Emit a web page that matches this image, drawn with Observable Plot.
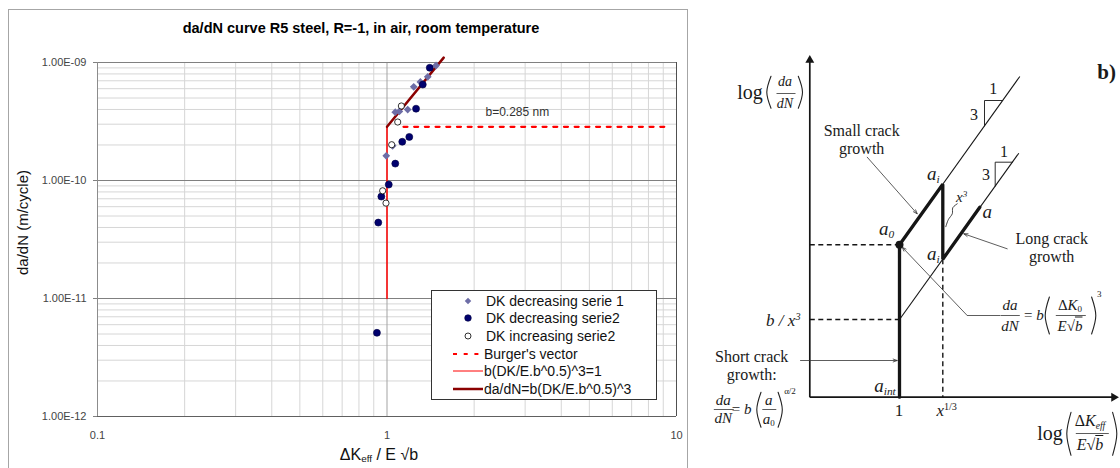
<!DOCTYPE html>
<html><head><meta charset="utf-8">
<script src="https://cdn.jsdelivr.net/npm/d3@7"></script>
<script src="https://cdn.jsdelivr.net/npm/@observablehq/plot@0.6"></script>
<style>
html,body{margin:0;padding:0;background:#fff}
body{width:1120px;height:468px;overflow:hidden;position:relative;font-family:"Liberation Sans",Arial,sans-serif}
#frame{position:absolute;left:8px;top:9px;width:678px;height:480px;border:1px solid #a6a6a6;border-bottom:none}
#left{position:absolute;left:0;top:0;width:700px;height:468px}
#right{position:absolute;left:700px;top:0;width:420px;height:468px}
#title{position:absolute;left:361px;top:28px;transform:translate(-50%,-50%);font-size:14.5px;font-weight:bold;white-space:nowrap;color:#000}
#xtitle{position:absolute;left:379px;top:455px;transform:translate(-50%,-50%);font-size:16px;white-space:nowrap;color:#111}
#xtitle sub{font-size:0.62em;vertical-align:-0.25em}
#legend{position:absolute;left:431px;top:290px;width:224px;height:107px;border:1px solid #333;background:#fff;padding-top:1px;box-sizing:content-box}
.lrow{height:17.6px;display:flex;align-items:center;font-size:14px;color:#111;white-space:nowrap}
.lrow svg{flex:none}
.lab{position:absolute;transform:translate(-50%,-50%);white-space:nowrap;font-family:"Liberation Serif","DejaVu Serif",serif;line-height:1;color:#1a1a1a;text-align:center}
.lab sub{font-size:0.6em;vertical-align:-0.3em;line-height:0}
.lab sup{font-size:0.6em;vertical-align:0.55em;line-height:0}
.ov{text-decoration:overline}
</style></head><body>
<div id="frame"></div>
<div id="left"></div>
<div id="right"></div>
<div id="title"></div>
<div id="xtitle">ΔK<sub>eff</sub> / E √b</div>
<div id="legend"></div>
<script>
// ---------- LEFT CHART DATA ----------
const chartTitle = "da/dN curve R5 steel, R=-1, in air, room temperature";
const yTitle = "da/dN (m/cycle)";
const xTicks = [0.1, 1, 10];
const xTickLabels = ["0.1", "1", "10"];
const yTicks = [1e-12, 1e-11, 1e-10, 1e-9];
const yTickLabels = ["1.00E-12", "1.00E-11", "1.00E-10", "1.00E-09"];
const minorMultipliers = [2, 3, 4, 5, 6, 7, 8, 9];

// DK decreasing serie 1 (diamonds)
const dec1X = [1.477, 1.383, 1.304, 1.237, 1.179, 1.103, 1.068, 1.046, 0.994];
const dec1Y = [9.43e-10, 7.56e-10, 6.85e-10, 6.22e-10, 3.99e-10, 3.85e-10, 3.79e-10, 1.97e-10, 1.62e-10];
// DK decreasing serie2 (filled circles)
const dec2X = [1.405, 1.329, 1.260, 1.194, 1.129, 1.068, 1.014, 0.956, 0.933, 0.923];
const dec2Y = [9.02e-10, 6.50e-10, 4.06e-10, 2.34e-10, 2.13e-10, 1.39e-10, 9.24e-11, 7.31e-11, 4.40e-11, 5.12e-12];
// DK increasing serie2 (open circles)
const inc2X = [1.121, 1.089, 1.038, 0.966, 0.992];
const inc2Y = [4.28e-10, 3.13e-10, 2.01e-10, 8.18e-11, 6.43e-11];
// Burger's vector
const burgerX = [1.14, 9.4];
const burgerY = [2.85e-10, 2.85e-10];
const burgerLabel = "b=0.285 nm";
const burgerLabelX = 2.82, burgerLabelY = 3.76e-10;
// b(DK/E.b^0.5)^3=1
const thrX = [1, 1];
const thrY = [1e-11, 2.85e-10];
// da/dN=b(DK/E.b^0.5)^3
const parisX = [1, 1.57];
const parisY = [2.85e-10, 1.10e-9];

const legendNames = ["DK decreasing serie 1", "DK decreasing serie2", "DK increasing serie2",
  "Burger's vector", "b(DK/E.b^0.5)^3=1", "da/dN=b(DK/E.b^0.5)^3"];

const C = {dia: "#6d6da6", navy: "#00006e", navyStroke: "#000040", red: "#ff0000", dark: "#8b0000"};

const zip = (xs, ys) => xs.map((x, i) => ({x, y: ys[i]}));
const xMinor = [0.1, 1].flatMap(d => minorMultipliers.map(m => d * m));
const yMinor = [1e-12, 1e-11, 1e-10].flatMap(d => minorMultipliers.map(m => d * m));

document.getElementById("title").textContent = chartTitle;

const left = Plot.plot({
  width: 700, height: 468,
  marginLeft: 97, marginRight: 24, marginTop: 62, marginBottom: 52,
  x: {type: "log", domain: [0.1, 10]},
  y: {type: "log", domain: [1e-12, 1e-9]},
  style: {fontFamily: "'Liberation Sans', Arial, sans-serif", background: "transparent", overflow: "visible"},
  marks: [
    Plot.ruleX(xMinor, {stroke: "#d6d6d6", strokeWidth: 1}),
    Plot.ruleY(yMinor, {stroke: "#d6d6d6", strokeWidth: 1}),
    Plot.ruleX([1], {stroke: "#a3a3a3"}),
    Plot.ruleY(yTicks.slice(1), {stroke: "#808080"}),
    Plot.ruleX([10], {stroke: "#505050"}),
    Plot.ruleX([0.1], {stroke: "#8c8c8c"}),
    Plot.ruleY([1e-12], {stroke: "#606060"}),
    Plot.axisY({ticks: yTicks, tickFormat: d => yTickLabels[yTicks.indexOf(d)], tickSize: 4, tickPadding: 7,
      fontSize: 11, fill: "#444", stroke: "#808080", label: null}),
    Plot.axisX({ticks: xTicks, tickFormat: d => xTickLabels[xTicks.indexOf(d)], tickSize: 0, tickPadding: 15,
      fontSize: 11, fill: "#444", label: null}),
    Plot.line(zip(thrX, thrY), {x: "x", y: "y", stroke: C.red, strokeWidth: 1.5}),
    Plot.line(zip(burgerX, burgerY), {x: "x", y: "y", stroke: C.red, strokeWidth: 2.2, strokeDasharray: "4,6.7"}),
    Plot.line(zip(parisX, parisY), {x: "x", y: "y", stroke: C.dark, strokeWidth: 2.5}),
    Plot.dot(zip(dec1X, dec1Y), {x: "x", y: "y", symbol: "square", rotate: 45, r: 3.1, fill: C.dia, stroke: "none"}),
    Plot.dot(zip(dec2X, dec2Y), {x: "x", y: "y", r: 3.5, fill: C.navy, stroke: C.navyStroke, strokeWidth: 0.6}),
    Plot.dot(zip(inc2X, inc2Y), {x: "x", y: "y", r: 3.1, fill: "#fff", stroke: "#000", strokeWidth: 0.8}),
    Plot.text([burgerLabel], {x: burgerLabelX, y: burgerLabelY, text: d => d, fontSize: 12, fill: "#333"}),
    Plot.text([yTitle], {frameAnchor: "left", text: d => d, textAnchor: "middle", lineAnchor: "middle", rotate: -90, dx: -74, dy: -17, fontSize: 15, fill: "#111"})
  ]
});
document.getElementById("left").appendChild(left);

// legend
const legendSymbols = [
  `<rect x="-2.3" y="-2.3" width="4.6" height="4.6" fill="${C.dia}" transform="translate(36,9) rotate(45)"/>`,
  `<circle cx="36" cy="9" r="3.3" fill="${C.navy}" stroke="${C.navyStroke}" stroke-width="0.6"/>`,
  `<circle cx="36" cy="9" r="3" fill="#fff" stroke="#000" stroke-width="0.8"/>`,
  `<line x1="21" y1="9" x2="51" y2="9" stroke="${C.red}" stroke-width="2.2" stroke-dasharray="4,6.7"/>`,
  `<line x1="21" y1="9" x2="51" y2="9" stroke="${C.red}" stroke-width="1"/>`,
  `<line x1="21" y1="9" x2="51" y2="9" stroke="${C.dark}" stroke-width="2.5"/>`
];
const lg = document.getElementById("legend");
legendNames.forEach((n, i) => {
  const row = document.createElement("div");
  row.className = "lrow";
  const w = i < 3 ? 54 : 52;
  row.innerHTML = `<svg width="${w}" height="18" viewBox="0 0 ${w} 18">${legendSymbols[i]}</svg><span>${n}</span>`;
  lg.appendChild(row);
});

// ---------- RIGHT SCHEMATIC DATA (schematic units: origin at axis corner) ----------
const axisSegs = [{x1: 0, y1: 0, x2: 0, y2: 33.6}, {x1: 0, y1: 0, x2: 30.3, y2: 0}];
const tipUp = {x: 0, y: 34.2};
const tipRight = {x: 30.9, y: 0};
const thickX = [8.97, 8.97, 13.3, 13.3, 17.0];
const thickY = [0, 15.24, 21.3, 13.8, 19.0];
const thinLines = [{x1: 8.97, y1: 15.24, x2: 21.0, y2: 32.07}, {x1: 8.97, y1: 7.77, x2: 20.9, y2: 24.4}];
const dashedLines = [{x1: 0, y1: 15.24, x2: 8.97, y2: 15.24}, {x1: 0, y1: 7.77, x2: 8.97, y2: 7.77}, {x1: 13.3, y1: 13.8, x2: 13.3, y2: 0}];
const slopeTri = [
  {x: 19.28, y: 29.67, k: 1}, {x: 17.47, y: 29.67, k: 1}, {x: 17.47, y: 27.13, k: 1},
  {x: 20.25, y: 23.5, k: 2}, {x: 18.54, y: 23.5, k: 2}, {x: 18.54, y: 21.11, k: 2}
];
const squiggle = [{x: 14.74, y: 19.34}, {x: 14.3, y: 18.95}, {x: 14.25, y: 18.35}, {x: 13.85, y: 17.75}, {x: 13.6, y: 17.05}];
const a0Point = {x: 8.97, y: 15.24};
const leaderLinks = [{x1: 19.07, y1: 8.17, x2: 15.74, y2: 8.17}];
const leaderArrows = [
  {x1: 5.74, y1: 24.0, x2: 10.74, y2: 18.34},
  {x1: 19.74, y1: 14.84, x2: 15.4, y2: 16.34},
  {x1: -0.93, y1: 3.67, x2: 8.74, y2: 3.67},
  {x1: 15.74, y1: 8.17, x2: 9.24, y2: 15.0}
];
const fracBars = [
  {x1: -3.33, x2: -1.43, y: 30.37}, {x1: 19.1, x2: 21.0, y: 8.17}, {x1: 24.6, x2: 27.6, y: 8.17},
  {x1: -9.6, x2: -7.6, y: -1.23}, {x1: -4.75, x2: -3.35, y: -1.23}, {x1: 26.6, x2: 29.9, y: -3.63}
];
// parentheses: centre u, v, half-height h, side (-1 = "(", +1 = ")")
const parens = [
  {u: -4.1, v: 30.5, h: 1.6, s: -1}, {u: -0.93, v: 30.5, h: 1.6, s: 1},
  {u: 23.74, v: 8.17, h: 1.85, s: -1}, {u: 28.4, v: 8.17, h: 1.85, s: 1},
  {u: -5.1, v: -1.26, h: 1.75, s: -1}, {u: -2.95, v: -1.26, h: 1.75, s: 1},
  {u: 25.9, v: -3.66, h: 2.15, s: -1}, {u: 30.5, v: -3.66, h: 2.15, s: 1}
];
const parenPts = parens.flatMap((p, k) => [
  {x: p.u - p.s * 0.22, y: p.v + p.h, k},
  {x: p.u + p.s * 0.2, y: p.v, k},
  {x: p.u - p.s * 0.22, y: p.v - p.h, k}
]);
const rightLabels = [
  {u: -5.93, v: 30.5, t: "log", s: 20},
  {u: -2.43, v: 31.45, t: "<i>da</i>", s: 14},
  {u: -2.43, v: 29.25, t: "<i>dN</i>", s: 14},
  {u: 29.74, v: 32.5, t: "<b>b)</b>", s: 21},
  {u: 18.4, v: 30.8, t: "1", s: 16},
  {u: 16.47, v: 28.17, t: "3", s: 16},
  {u: 19.47, v: 24.5, t: "1", s: 16},
  {u: 17.67, v: 22.17, t: "3", s: 16},
  {u: 5.24, v: 25.67, t: "Small crack<br>growth", s: 16, lh: 18},
  {u: 12.4, v: 22.34, t: "<i>a<sub>i</sub></i>", s: 19},
  {u: 15.24, v: 20.0, t: "<i>x<sup>3</sup></i>", s: 15},
  {u: 17.8, v: 18.6, t: "<i>a</i>", s: 19},
  {u: 7.74, v: 16.84, t: "<i>a<sub>0</sub></i>", s: 19},
  {u: 24.24, v: 14.84, t: "Long crack<br>growth", s: 16, lh: 18},
  {u: 12.4, v: 14.34, t: "<i>a<sub>i</sub></i>", s: 19},
  {u: 20.07, v: 9.2, t: "<i>da</i>", s: 15},
  {u: 20.07, v: 7.1, t: "<i>dN</i>", s: 15},
  {u: 22.45, v: 8.17, t: "= <i>b</i>", s: 15},
  {u: 26.07, v: 9.2, t: "Δ<i>K</i><sub>0</sub>", s: 15},
  {u: 26.07, v: 7.1, t: "<i>E</i>√<span class='ov'><i>b</i></span>", s: 15},
  {u: 29.0, v: 10.3, t: "3", s: 9},
  {u: -2.6, v: 7.67, t: "<i>b / x<sup>3</sup></i>", s: 17},
  {u: -5.76, v: 3.07, t: "Short crack<br>growth:", s: 16, lh: 18},
  {u: 7.57, v: 1.17, t: "<i>a<sub>int</sub></i>", s: 19},
  {u: -8.6, v: -0.33, t: "<i>da</i>", s: 15},
  {u: -8.6, v: -2.16, t: "<i>dN</i>", s: 15},
  {u: -6.76, v: -1.26, t: "= <i>b</i>", s: 15},
  {u: -4.05, v: -0.33, t: "<i>a</i>", s: 15},
  {u: -4.05, v: -2.23, t: "<i>a</i><sub>0</sub>", s: 15},
  {u: -1.93, v: 0.55, t: "α/2", s: 9},
  {u: 8.97, v: -1.33, t: "1", s: 17},
  {u: 13.74, v: -1.33, t: "<i>x</i><sup>1/3</sup>", s: 17},
  {u: 24.07, v: -3.66, t: "log", s: 20},
  {u: 28.07, v: -2.45, t: "Δ<i>K</i><sub><i>eff</i></sub>", s: 16},
  {u: 28.07, v: -4.85, t: "<i>E</i>√<span class='ov'><i>b</i></span>", s: 16}
];

const ink = "#151515";
const right = Plot.plot({
  width: 420, height: 468, margin: 0,
  x: {domain: [-10.93, 31.07], axis: null},
  y: {domain: [-7.13, 39.67], axis: null},
  style: {background: "transparent", overflow: "visible"},
  marks: [
    Plot.link(axisSegs, {x1: "x1", y1: "y1", x2: "x2", y2: "y2", stroke: ink, strokeWidth: 1.7}),
    Plot.dot([tipUp], {x: "x", y: "y", symbol: "triangle", r: 3.3, rotate: 0, dy: 5, fill: ink, stroke: "none"}),
    Plot.dot([tipRight], {x: "x", y: "y", symbol: "triangle", r: 3.3, rotate: 90, dx: -5, fill: ink, stroke: "none"}),
    Plot.link(dashedLines, {x1: "x1", y1: "y1", x2: "x2", y2: "y2", stroke: ink, strokeWidth: 1.4, strokeDasharray: "5,3.5"}),
    Plot.link(thinLines, {x1: "x1", y1: "y1", x2: "x2", y2: "y2", stroke: ink, strokeWidth: 1.1}),
    Plot.line(slopeTri, {x: "x", y: "y", z: "k", stroke: ink, strokeWidth: 0.9}),
    Plot.line(zip(thickX, thickY), {x: "x", y: "y", stroke: ink, strokeWidth: 3.3, strokeLinejoin: "miter"}),
    Plot.line(squiggle, {x: "x", y: "y", curve: "catmull-rom", stroke: ink, strokeWidth: 0.8}),
    Plot.dot([a0Point], {x: "x", y: "y", r: 4, fill: ink, stroke: "none"}),
    Plot.link(leaderLinks, {x1: "x1", y1: "y1", x2: "x2", y2: "y2", stroke: "#333", strokeWidth: 0.8}),
    Plot.arrow(leaderArrows, {x1: "x1", y1: "y1", x2: "x2", y2: "y2", stroke: "#333", strokeWidth: 0.8, headLength: 8, headAngle: 40}),
    Plot.link(fracBars, {x1: "x1", x2: "x2", y1: "y", y2: "y", stroke: "#333", strokeWidth: 0.8}),
    Plot.line(parenPts, {x: "x", y: "y", z: "k", curve: "natural", stroke: "#222", strokeWidth: 1.1})
  ]
});
document.getElementById("right").appendChild(right);

const sx = right.scale("x"), sy = right.scale("y");
rightLabels.forEach(L => {
  const d = document.createElement("div");
  d.className = "lab";
  d.style.left = (700 + sx.apply(L.u)) + "px";
  d.style.top = sy.apply(L.v) + "px";
  d.style.fontSize = L.s + "px";
  if (L.lh) d.style.lineHeight = L.lh + "px";
  d.innerHTML = L.t;
  document.body.appendChild(d);
});
</script>
</body></html>
